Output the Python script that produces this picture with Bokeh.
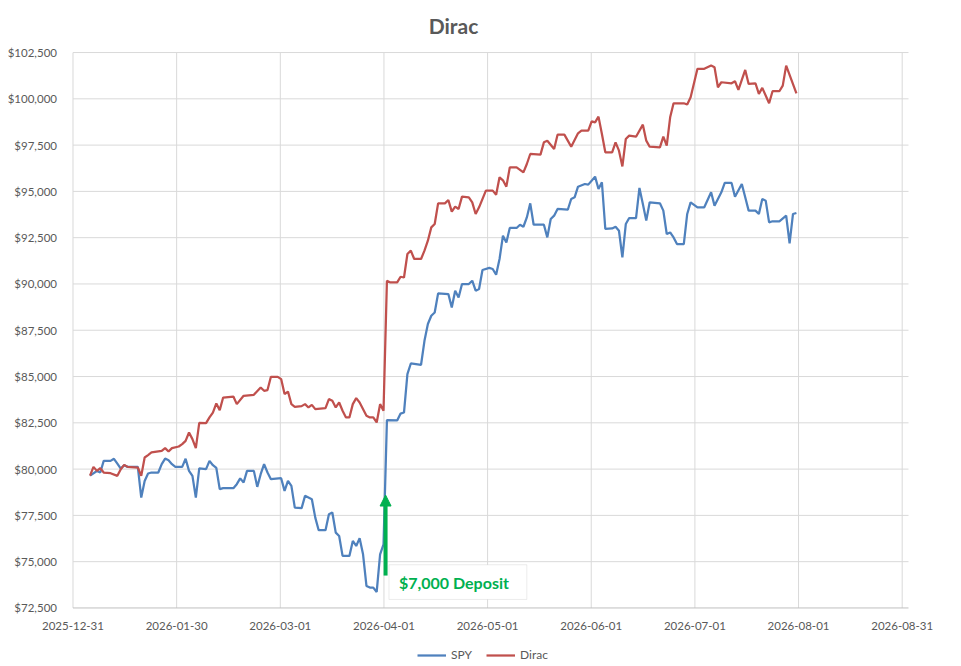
from bokeh.plotting import figure
from bokeh.models import (Range1d, FixedTicker, NumeralTickFormatter, Legend, LegendItem,
                          Arrow, NormalHead, BoxAnnotation, Label)
from bokeh.embed import file_html
from bokeh.resources import INLINE
import pandas as pd

# values
spy_dates = [
    "2026-01-05", "2026-01-07", "2026-01-08", "2026-01-09", "2026-01-11", "2026-01-12", "2026-01-13",
    "2026-01-14", "2026-01-15", "2026-01-16", "2026-01-19", "2026-01-20", "2026-01-21", "2026-01-22",
    "2026-01-23", "2026-01-25", "2026-01-26", "2026-01-27", "2026-01-28", "2026-01-29", "2026-01-30",
    "2026-02-01", "2026-02-02", "2026-02-03", "2026-02-04", "2026-02-05", "2026-02-06", "2026-02-08",
    "2026-02-09", "2026-02-10", "2026-02-11", "2026-02-12", "2026-02-13", "2026-02-16", "2026-02-17",
    "2026-02-18", "2026-02-19", "2026-02-20", "2026-02-22", "2026-02-23", "2026-02-24", "2026-02-25",
    "2026-02-26", "2026-02-27", "2026-03-02", "2026-03-03", "2026-03-04", "2026-03-05", "2026-03-06",
    "2026-03-08", "2026-03-09", "2026-03-11", "2026-03-12", "2026-03-13", "2026-03-15", "2026-03-16",
    "2026-03-17", "2026-03-18", "2026-03-19", "2026-03-20", "2026-03-22", "2026-03-23", "2026-03-24",
    "2026-03-25", "2026-03-26", "2026-03-27", "2026-03-28", "2026-03-29", "2026-03-30", "2026-03-31",
    "2026-04-01", "2026-04-02", "2026-04-05", "2026-04-06", "2026-04-07", "2026-04-08", "2026-04-09",
    "2026-04-12", "2026-04-13", "2026-04-14", "2026-04-15", "2026-04-16", "2026-04-17", "2026-04-20",
    "2026-04-21", "2026-04-22", "2026-04-23", "2026-04-24", "2026-04-26", "2026-04-27", "2026-04-28",
    "2026-04-29", "2026-04-30", "2026-05-02", "2026-05-03", "2026-05-04", "2026-05-05", "2026-05-06",
    "2026-05-07", "2026-05-08", "2026-05-10", "2026-05-11", "2026-05-12", "2026-05-13", "2026-05-14",
    "2026-05-15", "2026-05-18", "2026-05-19", "2026-05-20", "2026-05-21", "2026-05-22", "2026-05-25",
    "2026-05-26", "2026-05-27", "2026-05-28", "2026-05-30", "2026-05-31", "2026-06-02", "2026-06-03",
    "2026-06-04", "2026-06-05", "2026-06-07", "2026-06-08", "2026-06-09", "2026-06-10", "2026-06-11",
    "2026-06-12", "2026-06-14", "2026-06-15", "2026-06-16", "2026-06-17", "2026-06-18", "2026-06-21",
    "2026-06-22", "2026-06-23", "2026-06-24", "2026-06-25", "2026-06-26", "2026-06-28", "2026-06-29",
    "2026-06-30", "2026-07-02", "2026-07-04", "2026-07-06", "2026-07-07", "2026-07-09", "2026-07-10",
    "2026-07-12", "2026-07-13", "2026-07-15", "2026-07-16", "2026-07-17", "2026-07-19", "2026-07-20",
    "2026-07-21", "2026-07-22", "2026-07-23", "2026-07-24", "2026-07-26", "2026-07-28", "2026-07-29",
    "2026-07-30", "2026-07-31",
]
spy_values = [
    79650, 79900, 79815, 80445, 80445, 80555, 80300,
    80030, 80210, 80120, 80120, 78460, 79360, 79760,
    79815, 79815, 80265, 80570, 80480, 80265, 80120,
    80120, 80560, 79905, 79635, 78460, 80035, 80000,
    80445, 80210, 80060, 78915, 78970, 78970, 79185,
    79500, 79275, 79905, 79905, 79040, 79725, 80265,
    79815, 79455, 79510, 78825, 79365, 79095, 77920,
    77890, 78555, 78375, 77380, 76700, 76700, 77565,
    77655, 76570, 76390, 75310, 75310, 76120, 75850,
    76270, 75400, 73690, 73600, 73600, 73365, 75400,
    75940, 82645, 82630, 83000, 83055, 85130, 85705,
    85635, 86930, 87835, 88285, 88460, 89490, 89455,
    88730, 89635, 89270, 89995, 89995, 90175, 89635,
    89725, 90755, 90865, 90810, 90500, 91350, 92610,
    92245, 93025, 93025, 93200, 93090, 93595, 94355,
    93200, 93200, 92515, 93510, 93690, 94050, 94010,
    94590, 94680, 95255, 95400, 95365, 95795, 95130,
    95490, 92970, 93000, 93090, 92875, 91435, 93235,
    93560, 93560, 95185, 94320, 93420, 94410, 94355,
    93960, 92700, 92785, 92515, 92155, 92155, 93780,
    94410, 94140, 94140, 94950, 94230, 94950, 95455,
    95455, 94715, 95400, 94680, 93960, 93960, 93780,
    94590, 94500, 93330, 93385, 93385, 93690, 92190,
    93780, 93835,
]

dirac_dates = [
    "2026-01-05", "2026-01-06", "2026-01-07", "2026-01-08", "2026-01-09", "2026-01-11", "2026-01-13",
    "2026-01-14", "2026-01-15", "2026-01-16", "2026-01-19", "2026-01-20", "2026-01-21", "2026-01-22",
    "2026-01-23", "2026-01-26", "2026-01-27", "2026-01-28", "2026-01-29", "2026-01-31", "2026-02-01",
    "2026-02-02", "2026-02-03", "2026-02-04", "2026-02-05", "2026-02-06", "2026-02-08", "2026-02-09",
    "2026-02-10", "2026-02-11", "2026-02-12", "2026-02-13", "2026-02-16", "2026-02-17", "2026-02-19",
    "2026-02-22", "2026-02-24", "2026-02-25", "2026-02-26", "2026-02-27", "2026-03-01", "2026-03-02",
    "2026-03-03", "2026-03-04", "2026-03-05", "2026-03-06", "2026-03-08", "2026-03-09", "2026-03-10",
    "2026-03-11", "2026-03-12", "2026-03-15", "2026-03-16", "2026-03-17", "2026-03-18", "2026-03-19",
    "2026-03-20", "2026-03-21", "2026-03-22", "2026-03-23", "2026-03-24", "2026-03-25", "2026-03-27",
    "2026-03-28", "2026-03-29", "2026-03-30", "2026-03-31", "2026-04-01", "2026-04-02", "2026-04-03",
    "2026-04-05", "2026-04-06", "2026-04-07", "2026-04-08", "2026-04-09", "2026-04-10", "2026-04-12",
    "2026-04-13", "2026-04-14", "2026-04-15", "2026-04-16", "2026-04-17", "2026-04-19", "2026-04-20",
    "2026-04-21", "2026-04-22", "2026-04-23", "2026-04-24", "2026-04-26", "2026-04-27", "2026-04-28",
    "2026-04-29", "2026-05-01", "2026-05-03", "2026-05-04", "2026-05-05", "2026-05-06", "2026-05-07",
    "2026-05-08", "2026-05-10", "2026-05-12", "2026-05-13", "2026-05-14", "2026-05-17", "2026-05-18",
    "2026-05-19", "2026-05-21", "2026-05-22", "2026-05-24", "2026-05-25", "2026-05-26", "2026-05-28",
    "2026-05-29", "2026-05-31", "2026-06-01", "2026-06-02", "2026-06-03", "2026-06-04", "2026-06-05",
    "2026-06-07", "2026-06-08", "2026-06-09", "2026-06-10", "2026-06-11", "2026-06-12", "2026-06-14",
    "2026-06-16", "2026-06-17", "2026-06-18", "2026-06-21", "2026-06-22", "2026-06-23", "2026-06-24",
    "2026-06-25", "2026-06-28", "2026-06-29", "2026-06-30", "2026-07-02", "2026-07-04", "2026-07-06",
    "2026-07-07", "2026-07-08", "2026-07-09", "2026-07-12", "2026-07-13", "2026-07-14", "2026-07-16",
    "2026-07-17", "2026-07-19", "2026-07-20", "2026-07-21", "2026-07-23", "2026-07-24", "2026-07-26",
    "2026-07-27", "2026-07-28", "2026-07-31",
]
dirac_values = [
    79650, 80120, 79905, 80050, 79815, 79780, 79635,
    79995, 80230, 80120, 80085, 79635, 80625, 80755,
    80900, 80990, 81135, 80950, 81135, 81220, 81350,
    81525, 81975, 81620, 81135, 82500, 82480, 82790,
    83055, 83545, 83185, 83865, 83920, 83510, 83960,
    84010, 84410, 84230, 84270, 84985, 84985, 84860,
    84050, 84190, 83510, 83365, 83400, 83510, 83330,
    83470, 83240, 83295, 83780, 83690, 83330, 83600,
    83150, 82790, 82790, 83510, 83835, 83600, 82880,
    82790, 82800, 82520, 83510, 83150, 90175, 90085,
    90085, 90390, 90350, 91620, 91800, 91350, 91350,
    91800, 92335, 93055, 93240, 94355, 94355, 94535,
    93905, 94175, 94050, 94715, 94680, 94410, 93780,
    94140, 95040, 95040, 94820, 95760, 95600, 95255,
    96300, 96300, 96030, 96480, 97020, 96985, 97650,
    97740, 97290, 98065, 98065, 97740, 97415, 98135,
    98280, 98280, 98785, 98730, 99040, 98100, 97110,
    97110, 97650, 97200, 96350, 97830, 98010, 97955,
    98605, 97740, 97415, 97380, 97955, 97470, 99000,
    99760, 99760, 99690, 100085, 101620, 101620, 101795,
    101705, 100625, 100895, 100840, 100950, 100480, 101560,
    100805, 100840, 100265, 100590, 99760, 100410, 100410,
    100715, 101795, 100300,
]

x_tick_labels = ["2025-12-31", "2026-01-30", "2026-03-01", "2026-04-01", "2026-05-01",
                 "2026-06-01", "2026-07-01", "2026-08-01", "2026-08-31"]
y_ticks = [72500, 75000, 77500, 80000, 82500, 85000, 87500, 90000, 92500,
           95000, 97500, 100000, 102500]

chart_title = "Dirac"
deposit_text = "$7,000 Deposit"
deposit_date = "2026-04-01"

start = pd.Timestamp(x_tick_labels[0])
def to_days(dates):
    return (pd.to_datetime(dates) - start).days.tolist()

spy_x = to_days(spy_dates)
dirac_x = to_days(dirac_dates)

# axis ticks are spread evenly between first and last label
span = to_days([x_tick_labels[-1]])[0]
n = len(x_tick_labels) - 1
x_ticks = [span * i / n for i in range(n + 1)]
x_end = 244.85   # right edge of the plotting area, in days

GREY = "#595959"
GREEN = "#00B050"
GRID = "#D9D9D9"
FONT = "Lato"

# the frame fills the whole page; axes are pinned inside it so that
# tick labels, title and legend are not clipped
p = figure(width=961, height=666, x_range=Range1d(-21.246, 260.38),
           y_range=Range1d(69337.8, 105310.8),
           output_backend="svg", toolbar_location=None,
           min_border_left=0, min_border_right=0, min_border_top=0, min_border_bottom=0)
p.outline_line_color = None

# x axis
p.xaxis.fixed_location = y_ticks[0]
p.xaxis.ticker = FixedTicker(ticks=x_ticks)
p.xaxis.major_label_overrides = {t: lab for t, lab in zip(x_ticks, x_tick_labels)}
p.xaxis.major_tick_line_color = None
p.xaxis.minor_tick_line_color = None
p.xaxis.axis_line_color = None
p.xaxis.major_label_standoff = 8
p.xaxis.major_label_text_font = FONT
p.xaxis.major_label_text_font_size = "11.5px"
p.xaxis.major_label_text_color = GREY

# y axis
p.yaxis.fixed_location = x_ticks[0]
p.yaxis.ticker = FixedTicker(ticks=y_ticks)
p.yaxis.formatter = NumeralTickFormatter(format="$0,0")
p.yaxis.major_tick_line_color = None
p.yaxis.minor_tick_line_color = None
p.yaxis.axis_line_color = None
p.yaxis.major_label_standoff = 10
p.yaxis.major_label_text_font = FONT
p.yaxis.major_label_text_font_size = "11.5px"
p.yaxis.major_label_text_color = GREY

# grid lines drawn as segments so they stop at the plotting area
p.xgrid.grid_line_color = None
p.ygrid.grid_line_color = None
p.segment(x0=x_ticks, y0=[y_ticks[0]] * len(x_ticks), x1=x_ticks, y1=[y_ticks[-1]] * len(x_ticks),
          line_color=GRID, line_width=1)
p.segment(x0=[x_ticks[0]] * len(y_ticks[1:]), y0=y_ticks[1:],
          x1=[x_end] * len(y_ticks[1:]), y1=y_ticks[1:],
          line_color=GRID, line_width=1)
# bottom axis line
p.segment(x0=[x_ticks[0]], y0=[y_ticks[0]], x1=[x_end], y1=[y_ticks[0]],
          line_color="#BFBFBF", line_width=1)

r_spy = p.line(spy_x, spy_values, line_color="#4F81BD", line_width=2.25)
r_dirac = p.line(dirac_x, dirac_values, line_color="#C0504D", line_width=2.25)

# title, centred a little left of the plotting area's middle as in the original
p.add_layout(Label(x=111.5, y=103985, text=chart_title, text_font=FONT, text_font_size="21px",
                   text_font_style="bold", text_color=GREY,
                   text_align="center", text_baseline="middle"))

legend = Legend(items=[LegendItem(label="SPY", renderers=[r_spy]),
                       LegendItem(label="Dirac", renderers=[r_dirac])],
                orientation="horizontal", location=(417, 4),
                glyph_width=29, glyph_height=14, label_height=14, label_standoff=5,
                spacing=14, padding=0, margin=0,
                border_line_color=None, background_fill_alpha=0,
                label_text_font=FONT, label_text_font_size="12px", label_text_color=GREY)
p.add_layout(legend)

# deposit note: arrow and text box
dep_x = to_days([deposit_date])[0] + 0.6
p.add_layout(Arrow(end=NormalHead(size=11, fill_color=GREEN, line_color=GREEN, line_width=1),
                   x_start=dep_x, y_start=74250, x_end=dep_x, y_end=78600,
                   line_color=GREEN, line_width=4))
p.add_layout(BoxAnnotation(left=92.6, right=133.0, bottom=72960, top=74835,
                           fill_color="white", fill_alpha=1.0,
                           line_color="#BFBFBF", line_width=1))
p.add_layout(Label(x=92.6, y=73900, x_offset=10, text=deposit_text,
                   text_font=FONT, text_font_size="16px", text_font_style="bold",
                   text_color=GREEN, text_baseline="middle"))

open("out.html", "w").write(file_html(p, INLINE))
